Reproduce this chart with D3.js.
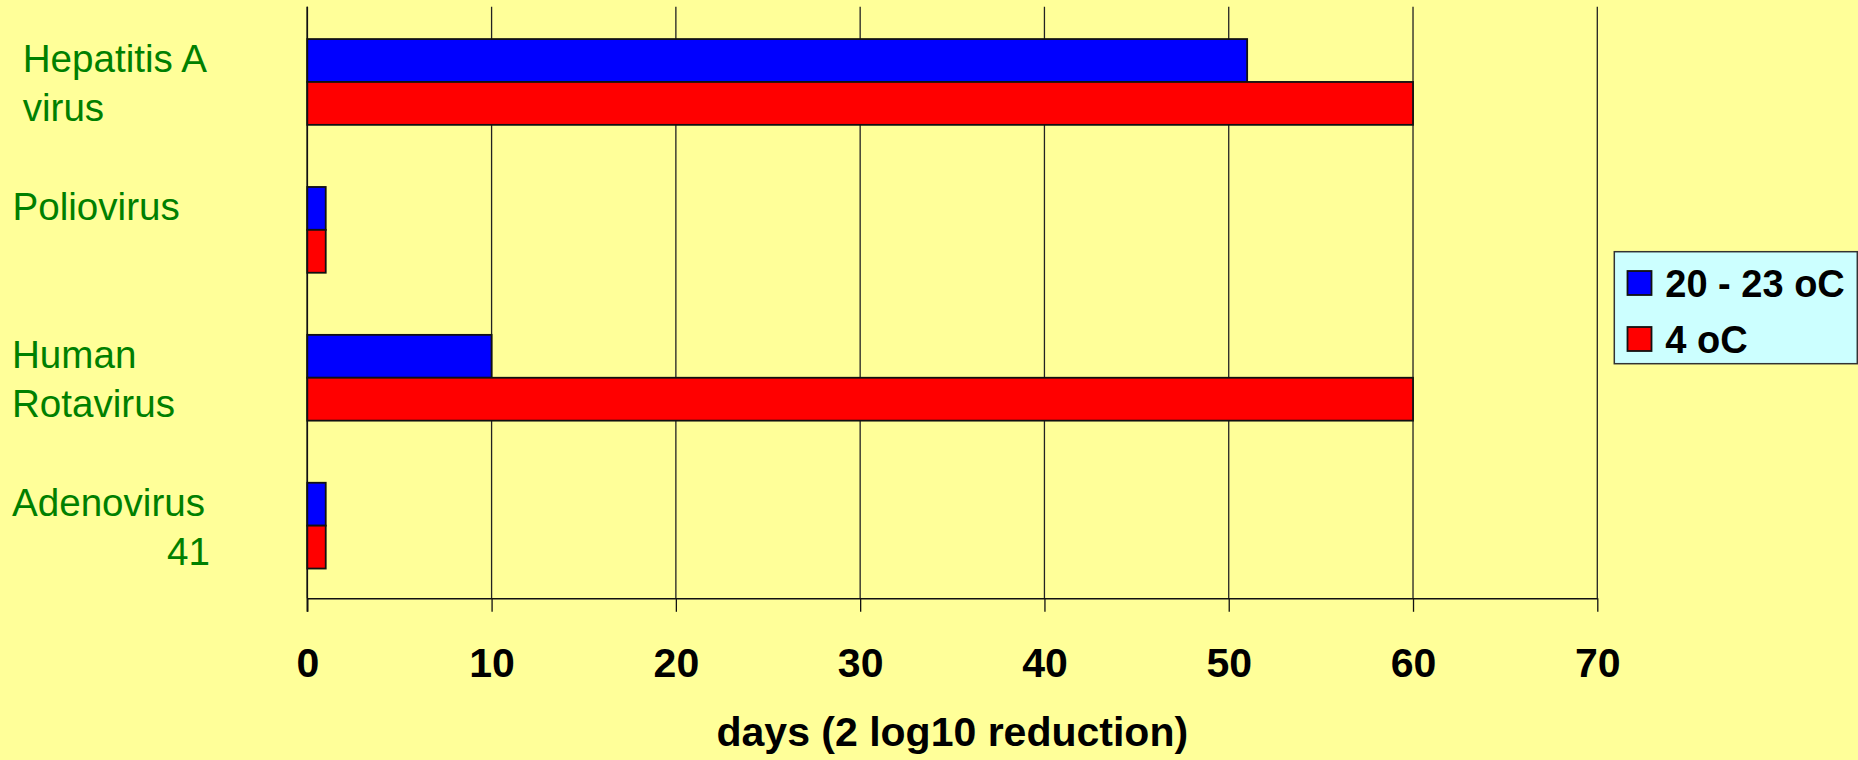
<!DOCTYPE html>
<html>
<head>
<meta charset="utf-8">
<script src="https://cdn.jsdelivr.net/npm/d3@7"></script>
<style>
  html, body { margin: 0; padding: 0; background: #FFFF99; }
  svg { display: block; }
</style>
</head>
<body>
<svg id="chart" width="1858" height="760"></svg>
<script>
// ---- data ----
const categories = ["Hepatitis A virus", "Poliovirus", "Human Rotavirus", "Adenovirus 41"];
const categoryLines = [["Hepatitis A", "virus"], ["Poliovirus"], ["Human", "Rotavirus"], ["Adenovirus", "41"]];
const seriesNames = ["20 - 23 oC", "4 oC"];
const warmValues = [51, 1, 10, 1];
const coldValues = [60, 1, 60, 1];
const xTicks = [0, 10, 20, 30, 40, 50, 60, 70];
const xTitle = "days (2 log10 reduction)";
const seriesColors = ["#0000FF", "#FF0000"];

// ---- layout ----
const W = 1858, H = 760;
const plot = { left: 307.3, right: 1597.3, top: 6.7, bottom: 598.3 };
const svg = d3.select("#chart");
svg.append("rect").attr("width", W).attr("height", H).attr("fill", "#FFFF99");

const x = d3.scaleLinear().domain([0, 70]).range([plot.left, plot.right]);
const y = d3.scaleBand().domain(categories).range([plot.top + 1.3, plot.bottom + 1.3])
  .paddingInner(0.42).paddingOuter(0.21);
const ySub = d3.scaleBand().domain(seriesNames).range([0, y.bandwidth()]);

// gridlines
svg.append("g").selectAll("line").data(xTicks).join("line")
  .attr("x1", d => x(d)).attr("x2", d => x(d))
  .attr("y1", plot.top).attr("y2", plot.bottom)
  .attr("stroke", "#222").attr("stroke-width", 1.3);

// bottom axis
const xAxis = d3.axisBottom(x).tickValues(xTicks).tickSize(13.5).tickSizeOuter(0).tickFormat(d3.format("d")).tickPadding(0);
const gx = svg.append("g").attr("transform", `translate(0,${plot.bottom})`).call(xAxis);
gx.select(".domain").attr("stroke", "#111").attr("stroke-width", 1.6);
gx.selectAll(".tick line").attr("stroke", "#111").attr("stroke-width", 1.3);
gx.selectAll(".tick text").remove();
gx.selectAll(".tick").append("text")
  .attr("y", 78.5).attr("text-anchor", "middle")
  .attr("font-family", "Liberation Sans, Arial, sans-serif")
  .attr("font-weight", "bold").attr("font-size", 41).attr("fill", "#000")
  .text(d => d);

// left axis line
svg.append("line").attr("x1", x(0)).attr("x2", x(0))
  .attr("y1", plot.top).attr("y2", plot.bottom + 13.5)
  .attr("stroke", "#111").attr("stroke-width", 1.6);

// bars
const rows = categories.map((c, i) => ({ cat: c, vals: [warmValues[i], coldValues[i]] }));
const groups = svg.append("g").selectAll("g").data(rows).join("g")
  .attr("transform", d => `translate(0,${y(d.cat)})`);
groups.selectAll("rect").data(d => d.vals.map((v, j) => ({ v, s: seriesNames[j], j })))
  .join("rect")
  .attr("x", x(0))
  .attr("y", d => ySub(d.s))
  .attr("width", d => x(d.v) - x(0))
  .attr("height", ySub.bandwidth())
  .attr("fill", d => seriesColors[d.j])
  .attr("stroke", "#111").attr("stroke-width", 1.8);

// category labels
const labelX = [22.7, 12.5, 12, 12];
const lineGap = 49;
categories.forEach((c, i) => {
  const cy = y(c) + y.bandwidth() / 2;
  const lines = categoryLines[i];
  lines.forEach((t, k) => {
    const isRightNum = (i === 3 && k === 1);
    svg.append("text")
      .attr("x", isRightNum ? 210 : labelX[i])
      .attr("y", cy - 10 + k * lineGap)
      .attr("text-anchor", isRightNum ? "end" : "start")
      .attr("font-family", "Liberation Sans, Arial, sans-serif")
      .attr("font-size", 38.6).attr("fill", "#008000")
      .text(t);
  });
});

// x title
svg.append("text")
  .attr("x", (plot.left + plot.right) / 2).attr("y", 746)
  .attr("text-anchor", "middle")
  .attr("font-family", "Liberation Sans, Arial, sans-serif")
  .attr("font-weight", "bold").attr("font-size", 41).attr("fill", "#000")
  .text(xTitle);

// legend
const lg = svg.append("g");
lg.append("rect").attr("x", 1614.3).attr("y", 251.7).attr("width", 243).attr("height", 112)
  .attr("fill", "#CCFFFF").attr("stroke", "#333").attr("stroke-width", 1.5);
seriesNames.forEach((s, i) => {
  const yy = 271 + i * 56;
  lg.append("rect").attr("x", 1627.5).attr("y", yy).attr("width", 24).attr("height", 24)
    .attr("fill", seriesColors[i]).attr("stroke", "#111").attr("stroke-width", 1.8);
  lg.append("text").attr("x", 1665.3).attr("y", yy + 25.7)
    .attr("font-family", "Liberation Sans, Arial, sans-serif")
    .attr("font-weight", "bold").attr("font-size", 38).attr("fill", "#000")
    .text(s);
});
</script>
</body>
</html>
